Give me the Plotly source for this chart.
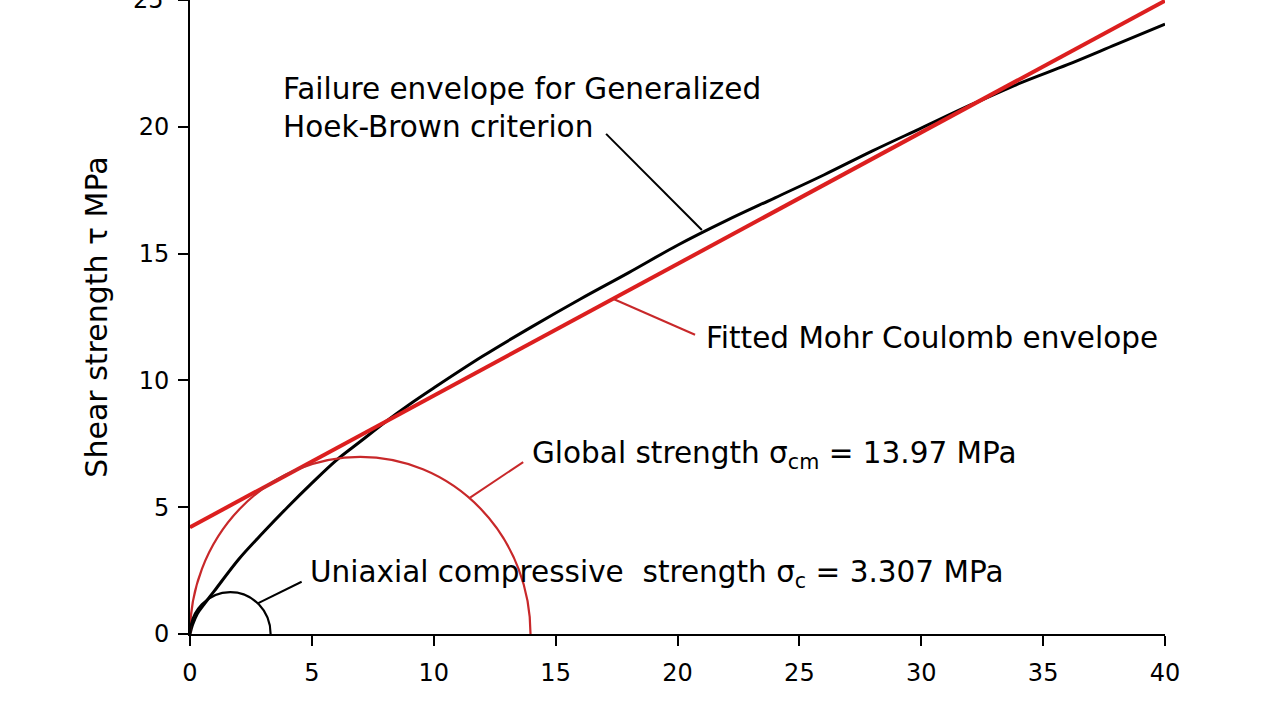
import plotly.graph_objects as go

# ---- data ----
HB_SIGMA = [0, 0.1, 0.3, 0.6, 1.0, 2.0, 3.0, 4.0, 5.0, 6.0, 7.0, 8.0, 9.0, 10.0,
            12.0, 14.0, 16.0, 18.0, 20.0, 22.0, 24.0, 26.0, 28.0, 30.0, 32.0,
            34.0, 36.0, 38.0, 40.0]
HB_TAU = [0, 0.35, 0.8, 1.2, 1.7, 2.95, 4.0, 5.0, 5.95, 6.85, 7.6, 8.35, 9.05, 9.7,
          10.95, 12.1, 13.2, 14.25, 15.33, 16.3, 17.2, 18.1, 19.05, 19.95, 20.85,
          21.7, 22.45, 23.25, 24.05]

MC_SIGMA = [0, 40]
MC_TAU = [4.21, 24.97]

SIGMA_C = 3.307    # uniaxial compressive strength (MPa)
SIGMA_CM = 13.97   # global strength (MPa)

X_TICKS = [0, 5, 10, 15, 20, 25, 30, 35, 40]
Y_TICKS = [0, 5, 10, 15, 20, 25]

FONT = "DejaVu Sans"
RED = "#dc1f1f"
RED_CIRCLE = "#c8282a"

fig = go.Figure()

fig.add_trace(go.Scatter(x=HB_SIGMA, y=HB_TAU, mode="lines",
                         line=dict(color="black", width=3, shape="spline"),
                         hoverinfo="skip"))
fig.add_trace(go.Scatter(x=MC_SIGMA, y=MC_TAU, mode="lines",
                         line=dict(color=RED, width=4),
                         hoverinfo="skip"))

shapes = [
    # Mohr circles (lower halves clipped by the plot area)
    dict(type="circle", xref="x", yref="y", x0=0, x1=SIGMA_CM,
         y0=-SIGMA_CM / 2, y1=SIGMA_CM / 2, line=dict(color=RED_CIRCLE, width=2.2)),
    dict(type="circle", xref="x", yref="y", x0=0, x1=SIGMA_C,
         y0=-SIGMA_C / 2, y1=SIGMA_C / 2, line=dict(color="black", width=2.2)),
    # leader lines
    dict(type="line", xref="x", yref="y", x0=17.07, y0=19.72, x1=21.0, y1=15.93,
         line=dict(color="black", width=2)),
    dict(type="line", xref="x", yref="y", x0=17.35, y0=13.22, x1=20.72, y1=11.8,
         line=dict(color=RED_CIRCLE, width=2)),
    dict(type="line", xref="x", yref="y", x0=13.67, y0=6.78, x1=11.49, y1=5.38,
         line=dict(color=RED_CIRCLE, width=2)),
    dict(type="line", xref="x", yref="y", x0=4.58, y0=2.06, x1=2.80, y1=1.22,
         line=dict(color="black", width=2)),
]

ann_font = dict(family=FONT, size=29.5, color="black")
annotations = [
    dict(x=3.74, y=20.76, xref="x", yref="y", xanchor="left", yanchor="middle",
         align="left", showarrow=False, font=ann_font,
         text="Failure envelope for Generalized<br>Hoek-Brown criterion"),
    dict(x=21.08, y=11.68, xref="x", yref="y", xanchor="left", yanchor="middle",
         showarrow=False, font=ann_font, text="Fitted Mohr Coulomb envelope"),
    dict(x=13.93, y=7.06, xref="x", yref="y", xanchor="left", yanchor="middle",
         showarrow=False, font=ann_font,
         text="Global strength σ<sub>cm</sub> = 13.97 MPa"),
    dict(x=4.84, y=2.37, xref="x", yref="y", xanchor="left", yanchor="middle",
         showarrow=False, font=ann_font,
         text="Uniaxial compressive \u00a0strength σ<sub>c</sub> = 3.307 MPa"),
    # top tick label, partly cut off by the page edge as in the reference
    dict(x=-0.0245, y=Y_TICKS[-1], xref="paper", yref="y", xanchor="right",
         yanchor="middle", showarrow=False,
         font=dict(family=FONT, size=24, color="black"), text=str(Y_TICKS[-1])),
]

axis_common = dict(showline=True, linecolor="black", linewidth=2,
                   ticks="outside", ticklen=10, tickwidth=2, tickcolor="black",
                   showgrid=False, zeroline=False,
                   tickfont=dict(family=FONT, size=24, color="black"))

fig.update_layout(
    width=1280, height=719,
    margin=dict(l=190, r=115, t=0, b=85, pad=0),
    paper_bgcolor="white", plot_bgcolor="white",
    showlegend=False,
    shapes=shapes, annotations=annotations,
    xaxis=dict(range=[0, 40], tickmode="array", tickvals=X_TICKS,
               ticktext=[str(v) for v in X_TICKS], ticklabelstandoff=6,
               **axis_common),
    yaxis=dict(range=[0, 25], tickmode="array", tickvals=Y_TICKS,
               ticktext=[str(v) for v in Y_TICKS], ticklabelstandoff=4,
               title=dict(text="Shear strength τ MPa",
                          font=dict(family=FONT, size=30, color="black"),
                          standoff=22),
               **axis_common),
)

fig.write_html("out.html")
